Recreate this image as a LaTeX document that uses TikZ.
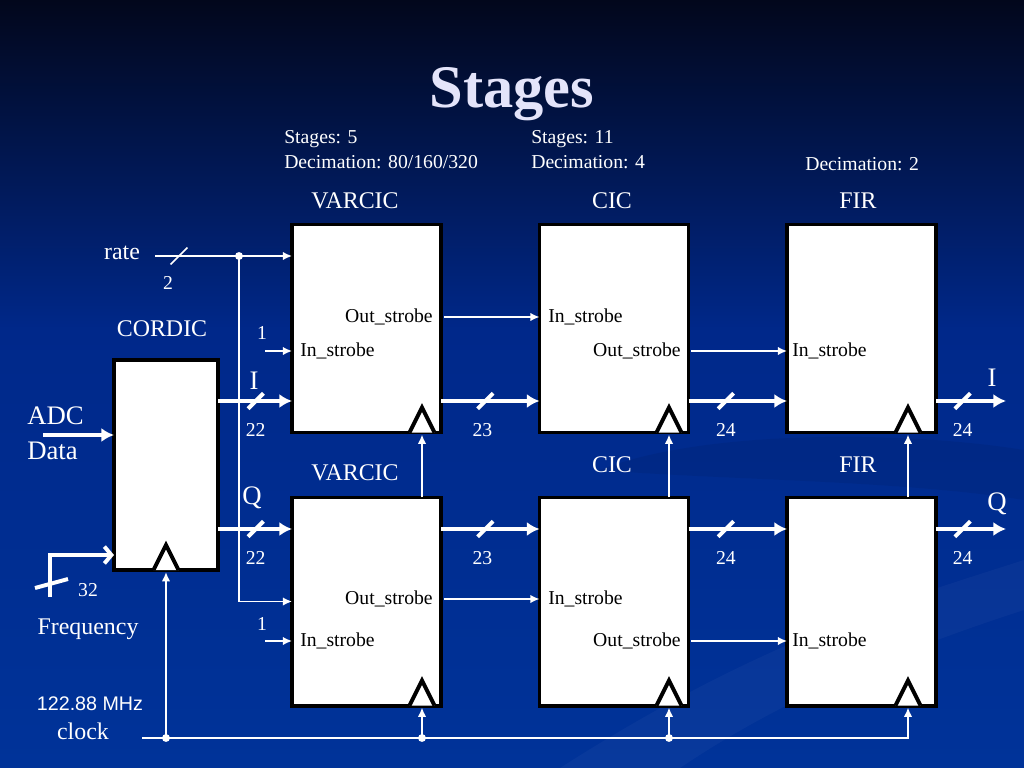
\documentclass[tikz,border=0pt]{standalone}
\usepackage{fontspec}
\setmainfont{Liberation Serif}
\newfontfamily\clockfont{Liberation Sans}
\usetikzlibrary{arrows.meta,calc,decorations.markings}
\definecolor{slidetop}{RGB}{2,7,28}
\definecolor{slidemid}{RGB}{0,40,138}
\definecolor{slidebot}{RGB}{0,51,153}
\definecolor{titlecol}{RGB}{228,228,250}
\tikzstyle{stage} = [rectangle, draw=black, fill=white, line width=2.8pt, inner sep=0pt, outer sep=0pt, minimum width=3.725cm, minimum height=5.2cm]
\tikzstyle{title} = [font=\fontsize{43}{50}\selectfont\bfseries, text=titlecol]
\tikzstyle{note} = [font=\fontsize{14}{16}\selectfont, text=white, inner sep=0pt]
\tikzstyle{port} = [font=\fontsize{14}{16}\selectfont, text=black, inner sep=0pt]
\tikzstyle{blockname} = [font=\fontsize{17}{20}\selectfont, text=white, inner sep=0pt]
\tikzstyle{signame} = [font=\fontsize{19}{22}\selectfont, text=white, inner sep=0pt]
\tikzstyle{sig} = [draw=white, line width=1.1pt, -{Latex[length=6.5pt,width=6pt]}]
\tikzstyle{fat} = [draw=white, line width=2.8pt, -{Latex[length=9pt,width=10pt]}]
\tikzstyle{clk} = [draw=black, fill=white, line width=2.8pt, miter limit=20]
\tikzset{
  bus/.style={fat, postaction={decorate}, decoration={markings,
      mark=at position #1 with {\draw[white, line width=2.8pt, -] (-5.5pt,-5.5pt) -- (5.5pt,5.5pt);}}},
  bus/.default=0.45,
  thinbus/.style={sig, postaction={decorate}, decoration={markings,
      mark=at position #1 with {\draw[white, line width=1.1pt, -] (-6pt,-6pt) -- (6pt,6pt);}}}
}

\begin{document}
\begin{tikzpicture}[x=0.025cm, y=-0.025cm]
    \useasboundingbox (0,0) rectangle (1024,768);
    % slide background
    \shade[top color=slidetop, bottom color=slidemid] (0,0) rectangle (1024,331);
    \shade[top color=slidemid, bottom color=slidebot] (0,330) rectangle (1024,768);
    \fill[white, opacity=0.03] (560,768) .. controls (760,640) and (900,600) .. (1024,560)
      -- (1024,610) .. controls (900,650) and (780,700) .. (680,768) -- cycle;
    \fill[black, opacity=0.06] (600,470) .. controls (700,430) and (900,430) .. (1024,450)
      -- (1024,500) .. controls (900,480) and (720,480) .. (600,470) -- cycle;

    % title and stage parameters
    \node [title] (title) at (512,94) {Stages};
    \node [note, anchor=west] (varstages) at (284,139) {Stages: 5};
    \node [note, anchor=west] (vardec) at (284,162) {Decimation: 80/160/320};
    \node [note, anchor=west] (cicstages) at (531,139) {Stages: 11};
    \node [note, anchor=west] (cicdec) at (531,162) {Decimation: 4};
    \node [note, anchor=west] (firdec) at (805,164) {Decimation: 2};

    % blocks
    \node [stage, minimum width=2.6cm, minimum height=5.25cm] (cordic) at (166,465) {};
    \node [stage] (varI) at (366.5,328.5) {};
    \node [stage] (cicI) at (614,328.5) {};
    \node [stage] (firI) at (861.5,328.5) {};
    \node [stage] (varQ) at (366.5,601.5) {};
    \node [stage] (cicQ) at (614,601.5) {};
    \node [stage] (firQ) at (861.5,601.5) {};
    \node [blockname] (cordicname) at (162,329) {CORDIC};
    \node [blockname] (varIname) at (355,201) {VARCIC};
    \node [blockname] (cicIname) at (612,201) {CIC};
    \node [blockname] (firIname) at (858,201) {FIR};
    \node [blockname] (varQname) at (355,473) {VARCIC};
    \node [blockname] (cicQname) at (612,465) {CIC};
    \node [blockname] (firQname) at (858,465) {FIR};

    % strobe ports
    \node [port, anchor=east] (varIout) at (433,317) {Out\_strobe};
    \node [port, anchor=west] (varIin) at (300,351) {In\_strobe};
    \node [port, anchor=west] (cicIin) at (548,317) {In\_strobe};
    \node [port, anchor=east] (cicIout) at (681,351) {Out\_strobe};
    \node [port, anchor=west] (firIin) at (792,351) {In\_strobe};
    \node [port, anchor=east] (varQout) at (433,599) {Out\_strobe};
    \node [port, anchor=west] (varQin) at (300,641) {In\_strobe};
    \node [port, anchor=west] (cicQin) at (548,599) {In\_strobe};
    \node [port, anchor=east] (cicQout) at (681,641) {Out\_strobe};
    \node [port, anchor=west] (firQin) at (792,641) {In\_strobe};

    % free ends and taps
    \coordinate (rowI) at (0,401);
    \coordinate (rowQ) at (0,529);
    \coordinate (outI) at (1006,401);
    \coordinate (outQ) at (1006,529);
    \coordinate (rateIn) at (155,256);
    \coordinate (rateTap) at (239,256);
    \coordinate (strI) at (265,351);
    \coordinate (strQ) at (265,641);
    \coordinate (adcIn) at (43,435);
    \coordinate (freqIn) at (50,597);
    \coordinate (freqTurn) at (50,555);
    \coordinate (clkIn) at (142,738);
    \coordinate (tapC) at (166,738);
    \coordinate (tap1) at (422,738);
    \coordinate (tap2) at (669,738);
    \coordinate (tap3) at (908,738);

    % clock edges
    \draw [clk] ($(tapC |- cordic.south)+(-12.5,0)$) -- ++(12.5,-25) -- ++(12.5,25);
    \draw [clk] ($(tap1 |- varI.south)+(-12.5,0)$) -- ++(12.5,-25) -- ++(12.5,25);
    \draw [clk] ($(tap2 |- cicI.south)+(-12.5,0)$) -- ++(12.5,-25) -- ++(12.5,25);
    \draw [clk] ($(tap3 |- firI.south)+(-12.5,0)$) -- ++(12.5,-25) -- ++(12.5,25);
    \draw [clk] ($(tap1 |- varQ.south)+(-12.5,0)$) -- ++(12.5,-25) -- ++(12.5,25);
    \draw [clk] ($(tap2 |- cicQ.south)+(-12.5,0)$) -- ++(12.5,-25) -- ++(12.5,25);
    \draw [clk] ($(tap3 |- firQ.south)+(-12.5,0)$) -- ++(12.5,-25) -- ++(12.5,25);

    % inputs of the CORDIC
    \node [signame, anchor=west] (adc) at (27,416) {ADC};
    \node [signame, anchor=west] (data) at (27,451) {Data};
    \draw [fat] (adcIn) -- (adcIn -| cordic.west);
    \draw [draw=white, line width=2.8pt, -{Straight Barb[length=5pt,width=12pt]}] (freqIn) -- (freqTurn) -- (freqTurn -| cordic.west);
    \draw [white, line width=2.8pt] ($(freqIn)+(-15,-9)$) -- ++(33,-9);
    \node [note] (freqbits) at (88,590) {32};
    \node [blockname] (freq) at (88,629) {Frequency};

    % I and Q data paths
    \node [signame] (Iname) at (254,381) {I};
    \node [signame] (Qname) at (252,498) {Q};
    \node [signame] (Iout) at (992,378) {I};
    \node [signame] (Qout) at (997,504) {Q};
    \draw [bus=0.51] (cordic.east |- rowI) -- node [note, pos=0.51, below=0.5cm] (bI1) {22} (varI.west |- rowI);
    \draw [bus=0.45] (varI.east |- rowI) -- node [note, pos=0.42, below=0.5cm] (bI2) {23} (cicI.west |- rowI);
    \draw [bus=0.38] (cicI.east |- rowI) -- node [note, pos=0.38, below=0.5cm] (bI3) {24} (firI.west |- rowI);
    \draw [bus=0.38] (firI.east |- rowI) -- node [note, pos=0.38, below=0.5cm] (bI4) {24} (outI);
    \draw [bus=0.51] (cordic.east |- rowQ) -- node [note, pos=0.51, below=0.5cm] (bQ1) {22} (varQ.west |- rowQ);
    \draw [bus=0.45] (varQ.east |- rowQ) -- node [note, pos=0.42, below=0.5cm] (bQ2) {23} (cicQ.west |- rowQ);
    \draw [bus=0.38] (cicQ.east |- rowQ) -- node [note, pos=0.38, below=0.5cm] (bQ3) {24} (firQ.west |- rowQ);
    \draw [bus=0.38] (firQ.east |- rowQ) -- node [note, pos=0.38, below=0.5cm] (bQ4) {24} (outQ);

    % rate
    \node [blockname] (rate) at (122,253) {rate};
    \node [note] (ratebits) at (168,283) {2};
    \draw [thinbus=0.175] (rateIn) -- (rateIn -| varI.west);
    \draw [sig] (rateTap) |- (varQ.west);
    \fill [white] (rateTap) circle (2.8pt);

    % strobes
    \node [note] (oneI) at (262,333) {1};
    \node [note] (oneQ) at (262,624) {1};
    \draw [sig] (strI) -- (strI -| varI.west);
    \draw [sig] (strQ) -- (strQ -| varQ.west);
    \draw [sig, shorten <=2pt] (varIout.east -| varI.east) -- (cicIin.west -| cicI.west);
    \draw [sig, shorten <=2pt] (cicIout.east -| cicI.east) -- (firIin.west -| firI.west);
    \draw [sig, shorten <=2pt] (varQout.east -| varQ.east) -- (cicQin.west -| cicQ.west);
    \draw [sig, shorten <=2pt] (cicQout.east -| cicQ.east) -- (firQin.west -| firQ.west);

    % clock
    \node [font=\clockfont\fontsize{14}{16}\selectfont, text=white, inner sep=0pt] (mhz) at (90,704) {122.88 MHz};
    \node [blockname] (clock) at (83,731) {clock};
    \draw [sig, shorten >=1.5pt] (clkIn) -- (tap3) -- (tap3 |- firQ.south);
    \draw [sig, shorten >=1.5pt] (tapC) -- (tapC |- cordic.south);
    \draw [sig, shorten >=1.5pt] (tap1) -- (tap1 |- varQ.south);
    \draw [sig, shorten >=1.5pt] (tap2) -- (tap2 |- cicQ.south);
    \draw [sig, shorten >=1.5pt] (tap1 |- varQ.north) -- (tap1 |- varI.south);
    \draw [sig, shorten >=1.5pt] (tap2 |- cicQ.north) -- (tap2 |- cicI.south);
    \draw [sig, shorten >=1.5pt] (tap3 |- firQ.north) -- (tap3 |- firI.south);
    \fill [white] (tapC) circle (2.8pt);
    \fill [white] (tap1) circle (2.8pt);
    \fill [white] (tap2) circle (2.8pt);
\end{tikzpicture}
\end{document}
